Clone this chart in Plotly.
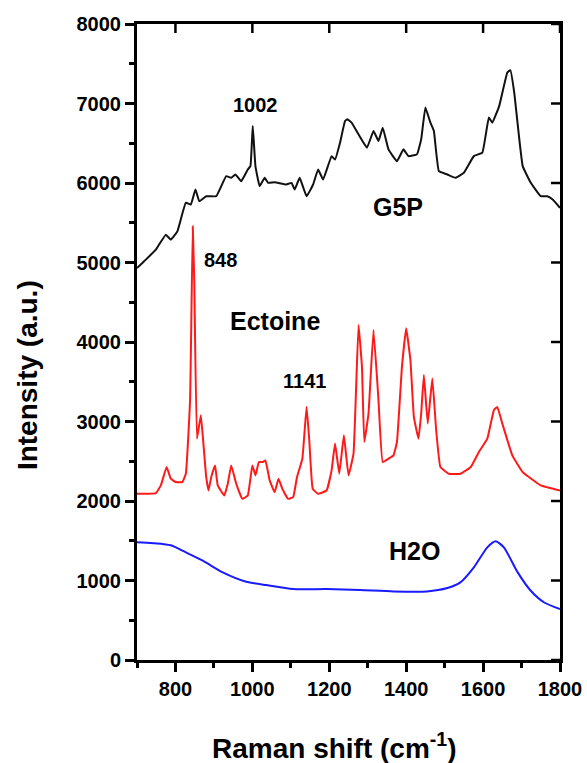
import plotly.graph_objects as go

# ---- data ----
g5p_x = [700, 718, 749, 775, 788, 805, 827, 840, 852, 862, 880, 906, 932, 945, 956, 971, 988, 995,
         1001, 1008, 1019, 1032, 1041, 1058, 1088, 1102, 1110, 1123, 1141, 1158, 1171, 1184, 1206,
         1215, 1228, 1241, 1247, 1258, 1276, 1298, 1315, 1328, 1339, 1354, 1376, 1393, 1406, 1428,
         1439, 1450, 1463, 1472, 1485, 1507, 1528, 1550, 1576, 1598, 1615, 1624, 1642, 1663, 1671,
         1681, 1703, 1724, 1750, 1767, 1781, 1800]
g5p_y = [4930, 5013, 5161, 5350, 5287, 5392, 5752, 5729, 5918, 5770, 5834, 5834, 6086, 6065, 6107,
         6023, 6170, 6212, 6717, 6212, 5960, 6065, 6002, 6010, 5981, 6002, 5918, 6065, 5834, 5981,
         6170, 6044, 6338, 6296, 6507, 6780, 6801, 6759, 6612, 6444, 6654, 6528, 6696, 6423, 6275,
         6423, 6338, 6360, 6549, 6949, 6759, 6654, 6149, 6107, 6065, 6128, 6338, 6381, 6823, 6759,
         6970, 7390, 7420, 7138, 6212, 6002, 5834, 5834, 5792, 5687]

ect_x = [700, 749, 762, 777, 788, 801, 818, 827, 838, 845, 849, 856, 866, 872, 880, 886, 893, 903,
         910, 927, 936, 945, 958, 974, 988, 1000, 1008, 1017, 1027, 1034, 1045, 1058, 1068, 1078,
         1093, 1106, 1116, 1130, 1141, 1148, 1157, 1171, 1193, 1206, 1215, 1226, 1238, 1250, 1263,
         1276, 1285, 1291, 1302, 1315, 1328, 1339, 1354, 1367, 1376, 1389, 1400, 1411, 1420, 1432,
         1439, 1446, 1456, 1468, 1478, 1489, 1511, 1541, 1568, 1589, 1611, 1628, 1637, 1650, 1676,
         1703, 1750, 1800]
ect_y = [2091, 2100, 2196, 2427, 2280, 2238, 2238, 2343, 3268, 5455, 4740, 2783, 3079, 2763, 2300,
         2132, 2300, 2448, 2196, 2069, 2217, 2448, 2217, 2027, 2069, 2448, 2322, 2490, 2490, 2511,
         2259, 2111, 2280, 2153, 2027, 2048, 2300, 2532, 3184, 2763, 2153, 2090, 2132, 2385, 2722,
         2343, 2826, 2322, 2595, 4214, 3688, 2742, 3100, 4151, 3268, 2490, 2532, 2574, 2742, 3688,
         4172, 3773, 3058, 2784, 3100, 3584, 2974, 3542, 2890, 2427, 2343, 2343, 2427, 2616, 2784,
         3142, 3184, 2974, 2574, 2364, 2196, 2132]

h2o_x = [700, 766, 792, 818, 871, 923, 984, 1036, 1106, 1193, 1280, 1367, 1454, 1507, 1541, 1576,
         1611, 1633, 1654, 1690, 1724, 1759, 1800]
h2o_y = [1480, 1460, 1438, 1375, 1249, 1102, 984, 942, 892, 892, 880, 862, 862, 905, 976, 1165,
         1417, 1493, 1417, 1102, 871, 723, 640]

x_ticks = [800, 1000, 1200, 1400, 1600, 1800]
y_ticks = [0, 1000, 2000, 3000, 4000, 5000, 6000, 7000, 8000]

FONT = "Liberation Sans, Arial, sans-serif"

fig = go.Figure()
fig.add_trace(go.Scatter(x=g5p_x, y=g5p_y, mode="lines",
                         line=dict(color="#111111", width=2, shape="spline", smoothing=0.3),
                         showlegend=False, hoverinfo="skip"))
fig.add_trace(go.Scatter(x=ect_x, y=ect_y, mode="lines",
                         line=dict(color="#ff1a1a", width=2, shape="spline", smoothing=0.3),
                         showlegend=False, hoverinfo="skip"))
fig.add_trace(go.Scatter(x=h2o_x, y=h2o_y, mode="lines",
                         line=dict(color="#1a1aff", width=2, shape="spline", smoothing=0.6),
                         showlegend=False, hoverinfo="skip"))

tickfont = dict(family=FONT, size=20, color="black", weight="bold")

fig.update_layout(
    width=587, height=763,
    margin=dict(l=137, r=27, t=24, b=103, autoexpand=False),
    paper_bgcolor="white", plot_bgcolor="white",
    showlegend=False,
    xaxis=dict(range=[700, 1800], tickvals=x_ticks, ticktext=[str(v) for v in x_ticks],
               ticks="outside", ticklen=9, tickwidth=2.5, tickcolor="black", automargin=False,
               minor=dict(dtick=100, tick0=700, ticks="outside", ticklen=5, tickwidth=2.5, tickcolor="black"),
               showline=True, linewidth=3, linecolor="black", mirror=True,
               showgrid=False, zeroline=False, tickfont=tickfont),
    yaxis=dict(range=[0, 8000], tickvals=y_ticks, ticktext=[str(v) for v in y_ticks],
               ticks="outside", ticklen=9, tickwidth=2.5, tickcolor="black", automargin=False,
               minor=dict(dtick=500, tick0=0, ticks="outside", ticklen=5, tickwidth=2.5, tickcolor="black"),
               showline=True, linewidth=3, linecolor="black", mirror=True,
               showgrid=False, zeroline=False, tickfont=tickfont),
)

# inward-pointing major ticks on the top and right edges, placed at the tick values
for xv in x_ticks:
    fig.add_shape(type="line", xref="x", yref="paper", x0=xv, x1=xv, y0=0, y1=-9,
                  ysizemode="pixel", yanchor=1, line=dict(color="black", width=2.5))
for yv in y_ticks:
    fig.add_shape(type="line", xref="paper", yref="y", x0=0, x1=-9, y0=yv, y1=yv,
                  xsizemode="pixel", xanchor=1, line=dict(color="black", width=2.5))

def ann(text, x, y, size, **kw):
    fig.add_annotation(text=text, x=x, y=y, showarrow=False,
                       font=dict(family=FONT, size=size, color="black", weight="bold"), **kw)

ann("1002", 1007, 6984, 20, xref="x", yref="y")
ann("848", 916, 5028, 20, xref="x", yref="y")
ann("1141", 1135, 3514, 20, xref="x", yref="y")
ann("Ectoine", 1058, 4265, 25, xref="x", yref="y")
ann("G5P", 1378, 5703, 25, xref="x", yref="y")
ann("H2O", 1421, 1375, 25, xref="x", yref="y")

ann("Intensity (a.u.)", -0.26, 0.448, 28, xref="paper", yref="paper", textangle=-90,
    xanchor="center", yanchor="middle")
ann("Raman shift (cm<sup>-1</sup>)", 0.468, -0.135, 28, xref="paper", yref="paper",
    xanchor="center", yanchor="middle")

fig.write_html("out.html")
